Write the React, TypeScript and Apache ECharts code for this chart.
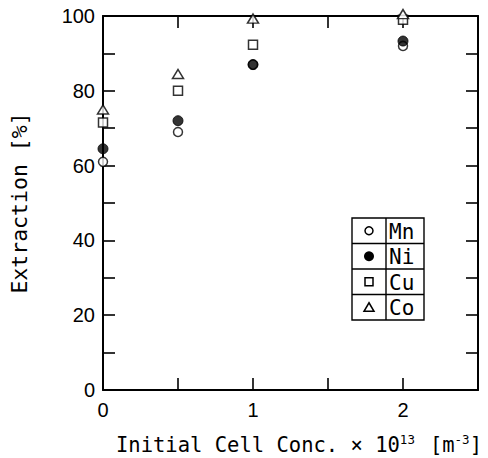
import React, { useEffect, useRef } from "react";
import * as echarts from "echarts";

const concentrations = [0, 0.5, 1, 2];
const mnValues = [61, 69, 87, 92];
const niValues = [64.5, 72, 87, 93.3];
const cuValues = [71.5, 80, 92.3, 99];
const coValues = [75, 84.5, 99.3, 100.5];
const seriesNames = ["Mn", "Ni", "Cu", "Co"];
const xTickLabels = ["0", "1", "2"];
const yTickLabels = ["0", "20", "40", "60", "80", "100"];

const MONO = "DejaVu Sans Mono";
const SANS = "Liberation Sans";

export default function App() {
  const ref = useRef<HTMLDivElement>(null);
  useEffect(() => {
    document.body.style.margin = "0";
    if (!ref.current) return;
    const chart = echarts.init(ref.current, undefined, { renderer: "svg" });
    const axisCommon = {
      type: "value" as const,
      axisLine: { show: true, onZero: false, lineStyle: { color: "#000", width: 2 } },
      axisTick: { show: true, inside: true, length: 12, lineStyle: { color: "#000", width: 1.6 } },
      splitLine: { show: false },
    };
    const xBase = { ...axisCommon, min: 0, max: 2.5, interval: 0.5 };
    const yBase = { ...axisCommon, min: 0, max: 100, interval: 10 };
    const mk = (vals: number[]) => concentrations.map((c, i) => [c, vals[i]]);
    const styles = [
      { symbol: "circle", symbolSize: 9, itemStyle: { color: "#fff", borderColor: "#000", borderWidth: 1.5 } },
      { symbol: "circle", symbolSize: 10, itemStyle: { color: "#000", borderColor: "#000", borderWidth: 1 } },
      { symbol: "rect", symbolSize: 9, itemStyle: { color: "#fff", borderColor: "#000", borderWidth: 1.5 } },
      { symbol: "triangle", symbolSize: [11, 9], itemStyle: { color: "#fff", borderColor: "#000", borderWidth: 1.5 } },
    ];
    const valueSets = [mnValues, niValues, cuValues, coValues];
    const series = seriesNames.map((name, i) => ({
      name,
      type: "scatter" as const,
      data: mk(valueSets[i]),
      clip: false,
      z: 3 + i,
      ...styles[i],
    }));

    // Legend table
    const lx = 352, ly = 218, lw = 72, rowH = 25.5, divX = 386;
    const legendEls: any[] = [
      { type: "rect", shape: { x: lx, y: ly, width: lw, height: rowH * 4 }, style: { fill: "#fff", stroke: "#000", lineWidth: 1.4 } },
      { type: "line", shape: { x1: divX, y1: ly, x2: divX, y2: ly + rowH * 4 }, style: { stroke: "#000", lineWidth: 1.4 } },
    ];
    for (let i = 1; i < 4; i++) {
      legendEls.push({ type: "line", shape: { x1: lx, y1: ly + rowH * i, x2: lx + lw, y2: ly + rowH * i }, style: { stroke: "#000", lineWidth: 1.4 } });
    }
    const cx = 369;
    seriesNames.forEach((name, i) => {
      const cy = ly + rowH * i + rowH / 2;
      if (i === 0) legendEls.push({ type: "circle", shape: { cx, cy, r: 4 }, style: { fill: "#fff", stroke: "#000", lineWidth: 1.5 } });
      if (i === 1) legendEls.push({ type: "circle", shape: { cx, cy, r: 5 }, style: { fill: "#000" } });
      if (i === 2) legendEls.push({ type: "rect", shape: { x: cx - 4, y: cy - 4, width: 8, height: 8 }, style: { fill: "#fff", stroke: "#000", lineWidth: 1.5 } });
      if (i === 3) legendEls.push({ type: "polygon", shape: { points: [[cx, cy - 4.5], [cx + 5, cy + 4], [cx - 5, cy + 4]] }, style: { fill: "#fff", stroke: "#000", lineWidth: 1.5 } });
      legendEls.push({ type: "text", x: 389, y: cy + 1, style: { text: name, font: `21px '${MONO}'`, fill: "#000", align: "left", verticalAlign: "middle" } });
    });

    chart.setOption({
      animation: false,
      backgroundColor: "#fff",
      grid: { left: 103, top: 16, right: 10, bottom: 68, containLabel: false },
      xAxis: [
        {
          ...xBase,
          position: "bottom",
          axisLabel: {
            show: true, margin: 10, color: "#000", fontSize: 20, fontFamily: SANS,
            formatter: (v: number) => (xTickLabels.includes(String(v)) ? String(v) : ""),
          },
        },
        { ...xBase, position: "top", axisLabel: { show: false } },
      ],
      yAxis: [
        {
          ...yBase,
          position: "left",
          axisLabel: {
            show: true, margin: 8, color: "#000", fontSize: 20, fontFamily: SANS,
            formatter: (v: number) => (yTickLabels.includes(String(v)) ? String(v) : ""),
          },
        },
        { ...yBase, position: "right", axisLabel: { show: false } },
      ],
      series,
      graphic: [
        {
          type: "text",
          x: 19,
          y: 203,
          rotation: Math.PI / 2,
          style: { text: "Extraction [%]", font: `21.5px '${MONO}'`, fill: "#000", align: "center", verticalAlign: "middle" },
        },
        {
          type: "text",
          x: 116,
          y: 444,
          style: {
            text: "{a|Initial Cell Conc. × 10}{s|13}{g| }{a|[m}{s|-3}{a|]}",
            align: "left",
            verticalAlign: "middle",
            fill: "#000",
            rich: {
              a: { fontFamily: MONO, fontSize: 20.5, lineHeight: 22, verticalAlign: "bottom", fill: "#000" },
              s: { fontFamily: MONO, fontSize: 12.5, lineHeight: 22, verticalAlign: "top", fill: "#000" },
              g: { fontFamily: MONO, fontSize: 20.5, lineHeight: 22, width: 15 },
            },
          },
        },
        ...legendEls,
      ],
    });
    return () => chart.dispose();
  }, []);
  return <div ref={ref} style={{ width: 488, height: 458 }} />;
}
